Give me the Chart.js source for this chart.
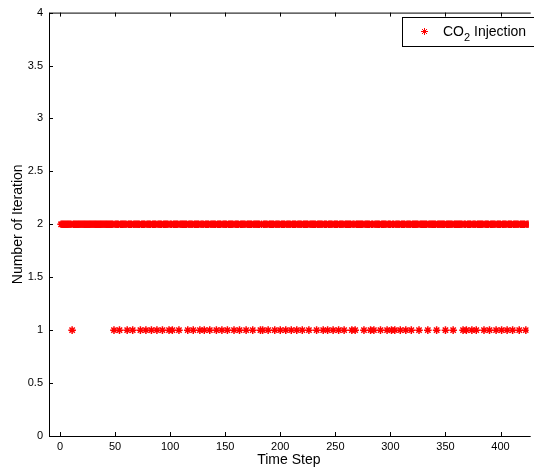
<!DOCTYPE html>
<html lang="en">
<head>
  <meta charset="UTF-8">
  <title>CO2 Injection iterations</title>
  <script src="https://cdn.jsdelivr.net/npm/chart.js@4"></script>
  <style>
    body { margin: 0; background: #fff; }
    canvas { display: block; }
  </style>
</head>
<body>
  <canvas id="iterChart" width="534" height="472"></canvas>

  <script>
    // time steps that needed only 1 iteration
    const oneIterationSteps = [
      11,
      49, 54, 61, 66, 73, 78, 83, 88, 93, 99, 102, 108, 116, 121, 127,
      131, 136, 142, 147, 152, 158, 163, 169, 175, 182, 184, 189, 195, 200, 205, 210, 215, 220, 226,
      233, 239, 243, 248, 253, 258, 265, 268, 276, 282, 285, 291, 297, 301, 304, 309, 314, 319,
      326, 334, 342, 350, 357, 366, 369, 374, 378, 385, 390, 396, 401, 406, 411, 417, 423
    ];
    const firstStep = 1;
    const lastStep = 426;
    const defaultIterations = 2;

    const xTicks = [0, 50, 100, 150, 200, 250, 300, 350, 400];
    const yTicks = [0, 0.5, 1, 1.5, 2, 2.5, 3, 3.5, 4];
    const legendLabel = ['CO', '2', ' Injection'];

    const points = [];
    for (let t = firstStep; t <= lastStep; t++) {
      points.push({ x: t, y: oneIterationSteps.includes(t) ? 1 : defaultIterations });
    }

    const FONT = "'Liberation Sans', Arial, Helvetica, sans-serif";

    const frame = {
      id: 'frame',
      afterDraw(chart) {
        const { ctx, chartArea: a } = chart;
        const xs = chart.scales.x, ys = chart.scales.y;
        ctx.save();
        ctx.strokeStyle = '#000';
        ctx.lineWidth = 1;
        ctx.beginPath();
        ctx.moveTo(a.left + 0.5, a.top + 0.5);
        ctx.lineTo(a.right + 2, a.top + 0.5);
        ctx.moveTo(a.left + 0.5, a.top);
        ctx.lineTo(a.left + 0.5, a.bottom + 0.5);
        ctx.lineTo(a.right + 2, a.bottom + 0.5);
        // inward ticks
        xTicks.forEach(v => {
          const px = Math.round(xs.getPixelForValue(v)) + 0.5;
          ctx.moveTo(px, a.bottom);
          ctx.lineTo(px, a.bottom - 4);
          ctx.moveTo(px, a.top);
          ctx.lineTo(px, a.top + 4);
        });
        yTicks.forEach(v => {
          const py = Math.round(ys.getPixelForValue(v)) + 0.5;
          ctx.moveTo(a.left, py);
          ctx.lineTo(a.left + 4, py);
        });
        ctx.stroke();

        // legend box
        const lx = 402, ly = 17, lh = 29;
        ctx.fillStyle = '#fff';
        ctx.fillRect(lx, ly, 200, lh);
        ctx.strokeRect(lx + 0.5, ly + 0.5, 200, lh);
        // asterisk marker
        const mx = 424.5, my = 31.5, r = 3.5;
        ctx.strokeStyle = '#ff0000';
        ctx.lineWidth = 1;
        ctx.beginPath();
        ctx.moveTo(mx - r, my); ctx.lineTo(mx + r, my);
        ctx.moveTo(mx, my - r); ctx.lineTo(mx, my + r);
        const d = r * Math.SQRT1_2;
        ctx.moveTo(mx - d, my - d); ctx.lineTo(mx + d, my + d);
        ctx.moveTo(mx - d, my + d); ctx.lineTo(mx + d, my - d);
        ctx.stroke();
        // label with subscript
        ctx.fillStyle = '#000';
        ctx.textBaseline = 'alphabetic';
        ctx.textAlign = 'left';
        ctx.font = '14px ' + FONT;
        let tx = 443;
        ctx.fillText(legendLabel[0], tx, 36);
        tx += ctx.measureText(legendLabel[0]).width;
        ctx.font = '11px ' + FONT;
        ctx.fillText(legendLabel[1], tx, 41);
        tx += ctx.measureText(legendLabel[1]).width;
        ctx.font = '14px ' + FONT;
        ctx.fillText(legendLabel[2], tx, 36);
        ctx.restore();
      }
    };

    new Chart(document.getElementById('iterChart'), {
      type: 'scatter',
      data: {
        datasets: [{
          label: 'CO2 Injection',
          data: points,
          pointStyle: 'star',
          pointRadius: 3.8,
          pointHoverRadius: 3.8,
          borderColor: '#ff0000',
          backgroundColor: '#ff0000',
          borderWidth: 1.5
        }]
      },
      options: {
        responsive: false,
        animation: false,
        events: [],
        layout: { padding: { top: 12, right: -6, left: 0, bottom: 0 } },
        plugins: {
          legend: { display: false },
          tooltip: { enabled: false }
        },
        scales: {
          x: {
            type: 'linear',
            min: -10,
            max: 425.6,
            afterBuildTicks: s => { s.ticks = xTicks.map(v => ({ value: v })); },
            afterFit: s => { s.height = 36; },
            grid: { display: false, drawTicks: false },
            border: { display: false },
            ticks: {
              color: '#000', font: { family: FONT, size: 11 }, padding: 4, maxRotation: 0,
              callback: v => String(v)
            },
            title: {
              display: true, text: 'Time Step', color: '#000',
              font: { family: FONT, size: 14 }, padding: { top: 0, bottom: 3 }
            }
          },
          y: {
            type: 'linear',
            min: 0,
            max: 4,
            afterBuildTicks: s => { s.ticks = yTicks.map(v => ({ value: v })); },
            afterFit: s => { s.width = 49; },
            grid: { display: false, drawTicks: false },
            border: { display: false },
            ticks: {
              color: '#000', font: { family: FONT, size: 11 }, padding: 6,
              callback: v => String(v)
            },
            title: {
              display: true, text: 'Number of Iteration', color: '#000',
              font: { family: FONT, size: 14 }, padding: { top: 10, bottom: 0 }
            }
          }
        }
      },
      plugins: [frame]
    });
  </script>
</body>
</html>
